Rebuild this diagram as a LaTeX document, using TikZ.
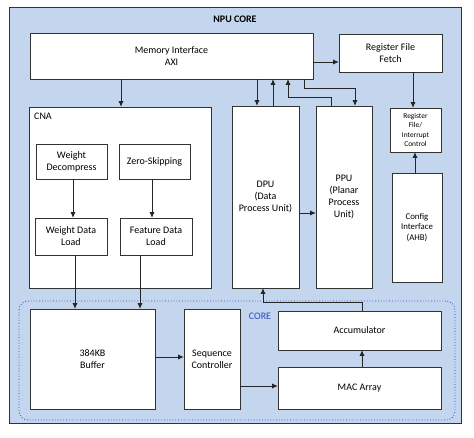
\documentclass[tikz,border=0pt]{standalone}
\usepackage{fontspec}
\setmainfont{Carlito}
\usetikzlibrary{arrows.meta,positioning}
\definecolor{npubg}{RGB}{196,214,238}
\definecolor{corebl}{RGB}{40,70,200}
\definecolor{boxline}{RGB}{50,50,50}

\begin{document}
\begin{tikzpicture}[x=1pt, y=-1pt,
  box/.style={draw=boxline, line width=0.6pt, fill=white, align=center,
              font=\fontsize{10}{12}\selectfont, inner sep=2pt},
  smallbox/.style={box, font=\fontsize{7.4}{9.2}\selectfont},
  arr/.style={-{Latex[length=5.5pt,width=5pt]}, line width=0.6pt, black!85},
  lbl/.style={font=\fontsize{10}{12}\selectfont, inner sep=1pt},
]
\useasboundingbox (0,0) rectangle (474,438);

% Outer frame
\node[draw=boxline, line width=0.6pt, fill=npubg, minimum width=452pt, minimum height=416pt] (npu) at (235,215) {};
\node[lbl, font=\fontsize{10}{12}\selectfont\bfseries] (npulbl) at (235,19) {NPU CORE};

% Top row
\node[box, minimum width=283pt, minimum height=46pt] (mem) at (171.5,56) {Memory Interface\\AXI};
\node[box, minimum width=103pt, minimum height=38pt] (regf) at (390.5,53) {Register File\\Fetch};

% CNA block
\node[box, minimum width=182pt, minimum height=181pt] (cna) at (120,197.5) {};
\node[lbl, anchor=north west] (cnalbl) at (33,112) {CNA};
\node[box, minimum width=71pt, minimum height=35pt] (wdec) at (71.5,161.5) {Weight\\Decompress};
\node[box, minimum width=71pt, minimum height=35pt] (zs) at (154.5,161.5) {Zero-Skipping};
\node[box, minimum width=72pt, minimum height=37pt] (wdl) at (71,236.5) {Weight Data\\Load};
\node[box, minimum width=72pt, minimum height=37pt] (fdl) at (156,236.5) {Feature Data\\Load};

% Processing units
\node[box, minimum width=67pt, minimum height=182pt] (dpu) at (265.5,197) {DPU\\(Data\\Process Unit)};
\node[box, minimum width=56pt, minimum height=182pt] (ppu) at (344,197) {PPU\\(Planar\\Process\\Unit)};
\node[smallbox, minimum width=51pt, minimum height=44pt] (regi) at (415.5,130) {Register\\File/\\Interrupt\\Control};
\node[box, font=\fontsize{8.8}{10.8}\selectfont, minimum width=50pt, minimum height=109pt] (cfg) at (417,227.5) {Config\\Interface\\(AHB)};

% CORE
\node[draw=corebl, dotted, thick, rounded corners=9pt, minimum width=436pt, minimum height=119pt] (core) at (237,360.5) {};
\node[lbl, text=corebl] (corelbl) at (260,316) {CORE};
\node[box, minimum width=125pt, minimum height=100pt] (buf) at (92.5,359) {384KB\\Buffer};
\node[box, minimum width=56pt, minimum height=100pt] (seq) at (212,359) {Sequence\\Controller};
\node[box, minimum width=163pt, minimum height=39pt] (acc) at (359.5,330.5) {Accumulator};
\node[box, minimum width=163pt, minimum height=42pt] (mac) at (359.5,388) {MAC Array};

% Connectors
\draw[arr] (mem.east |- 0,62) -- (regf.west |- 0,62);
\draw[arr] (121,0 |- mem.south) -- (121,0 |- cna.north);
\draw[arr] (73,0 |- wdec.south) -- (73,0 |- wdl.north);
\draw[arr] (152,0 |- zs.south) -- (152,0 |- fdl.north);
\draw[arr] (75,0 |- wdl.south) -- (75,0 |- buf.north);
\draw[arr] (140,0 |- fdl.south) -- (140,0 |- buf.north);

\draw[arr] (257,0 |- mem.south) -- (257,0 |- dpu.north);
\draw[arr] (273,0 |- dpu.north) -- (273,0 |- mem.south);
\draw[arr] (331,0 |- ppu.north) -- ++(0,-8) -| (288,0 |- mem.south);
\draw[arr] (304,0 |- mem.south) -- ++(0,9) -| (355,0 |- ppu.north);
\draw[arr] (413,0 |- regf.south) -- (413,0 |- regi.north);
\draw[arr] (415,0 |- cfg.north) -- (415,0 |- regi.south);
\draw[arr] (dpu.east |- 0,213) -- (ppu.west |- 0,213);

\draw[arr] (buf.east |- 0,357) -- (seq.west |- 0,357);
\draw[arr] (seq.east |- 0,386) -- (mac.west |- 0,386);
\draw[arr] (362,0 |- mac.north) -- (362,0 |- acc.south);
\draw[arr] (362,0 |- acc.north) -- ++(0,-8) -| (263,0 |- dpu.south);
\end{tikzpicture}
\end{document}
